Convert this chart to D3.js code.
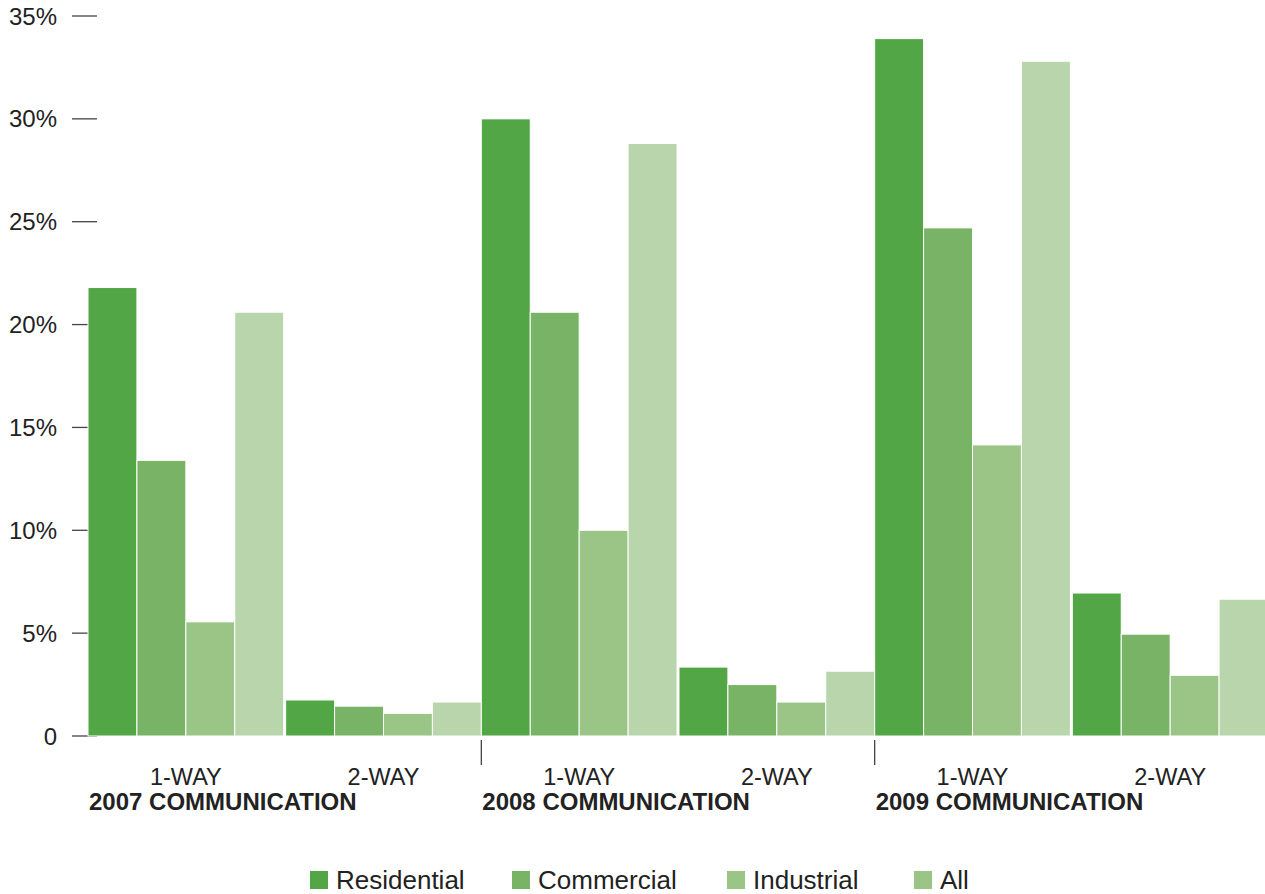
<!DOCTYPE html>
<html>
<head>
<meta charset="utf-8">
<script src="https://cdnjs.cloudflare.com/ajax/libs/d3/7.8.5/d3.min.js"></script>
<style>
  html, body { margin: 0; padding: 0; background: #fff; }
  svg { display: block; font-family: "Liberation Sans", Arial, Helvetica, sans-serif; }
</style>
</head>
<body>
<svg id="chart" width="1265" height="894"></svg>
<script>
var years = ['2007', '2008', '2009'];
var ways = ['1-WAY', '2-WAY'];
var series = ['Residential', 'Commercial', 'Industrial', 'All'];
var colors = ['#52a646', '#79b466', '#9bc586', '#b9d5ab'];
var legendColors = ['#52a646', '#79b466', '#9bc586', '#9bc586'];
var yTicks = [0, 5, 10, 15, 20, 25, 30, 35];

// values in %, one row per year, [1-way, 2-way]
var residential = [[21.8, 1.75], [30.0, 3.35], [33.9, 6.95]];
var commercial  = [[13.4, 1.45], [20.6, 2.5],  [24.7, 4.95]];
var industrial  = [[5.55, 1.1],  [10.0, 1.65], [14.15, 2.95]];
var all         = [[20.6, 1.65], [28.8, 3.15], [32.8, 6.65]];
var seriesValues = [residential, commercial, industrial, all];

var svg = d3.select('#chart');
var plotLeft = 88, plotRight = 1268, plotTop = 16, plotBottom = 736;

var y = d3.scaleLinear().domain([0, 35]).range([plotBottom, plotTop]);

var xYear = d3.scaleBand().domain(years).range([plotLeft, plotRight]).padding(0);
var xWay = d3.scaleBand().domain(ways).range([0, xYear.bandwidth()])
  .paddingInner(0.01).paddingOuter(0);
var xSeries = d3.scaleBand().domain(series).range([0, xWay.bandwidth()]).padding(0);

// y axis: labels + short dashes
var yAxis = svg.append('g');
yAxis.selectAll('line').data(yTicks).enter().append('line')
  .attr('x1', 72).attr('x2', 97)
  .attr('y1', function(d) { return y(d); })
  .attr('y2', function(d) { return y(d); })
  .attr('stroke', '#444').attr('stroke-width', 1.3);
yAxis.selectAll('text').data(yTicks).enter().append('text')
  .attr('x', 57)
  .attr('y', function(d) { return y(d) + 8.5; })
  .attr('text-anchor', 'end')
  .attr('font-size', 24)
  .attr('fill', '#222')
  .text(function(d) { return d === 0 ? '0' : d + '%'; });

// bars
var rows = [];
years.forEach(function(yr, yi) {
  ways.forEach(function(w, wi) {
    series.forEach(function(s, si) {
      rows.push({year: yr, way: w, series: s, color: colors[si], value: seriesValues[si][yi][wi]});
    });
  });
});

svg.append('g').selectAll('rect').data(rows).enter().append('rect')
  .attr('x', function(d) { return xYear(d.year) + xWay(d.way) + xSeries(d.series); })
  .attr('y', function(d) { return y(d.value); })
  .attr('width', xSeries.bandwidth())
  .attr('height', function(d) { return y(0) - y(d.value); })
  .attr('fill', function(d) { return d.color; })
  .attr('stroke', '#fff').attr('stroke-width', 1);

// x labels
var xAxis = svg.append('g');
years.forEach(function(yr, yi) {
  ways.forEach(function(w) {
    xAxis.append('text')
      .attr('x', xYear(yr) + xWay(w) + xWay.bandwidth() / 2)
      .attr('y', 785)
      .attr('text-anchor', 'middle')
      .attr('font-size', 23.5)
      .attr('fill', '#222')
      .text(w);
  });
  xAxis.append('text')
    .attr('x', xYear(yr) + 1)
    .attr('y', 810)
    .attr('font-size', 24)
    .attr('font-weight', 'bold')
    .attr('fill', '#222')
    .text(yr + ' COMMUNICATION');
  if (yi > 0) {
    xAxis.append('line')
      .attr('x1', xYear(yr)).attr('x2', xYear(yr))
      .attr('y1', 740).attr('y2', 765)
      .attr('stroke', '#444').attr('stroke-width', 1.3);
  }
});

// legend
var legendX = [310, 512, 727, 914];
var legend = svg.append('g');
series.forEach(function(s, i) {
  legend.append('rect')
    .attr('x', legendX[i]).attr('y', 871)
    .attr('width', 18).attr('height', 18)
    .attr('fill', legendColors[i]);
  legend.append('text')
    .attr('x', legendX[i] + 26).attr('y', 889)
    .attr('font-size', 26)
    .attr('fill', '#222')
    .text(s);
});
</script>
</body>
</html>
